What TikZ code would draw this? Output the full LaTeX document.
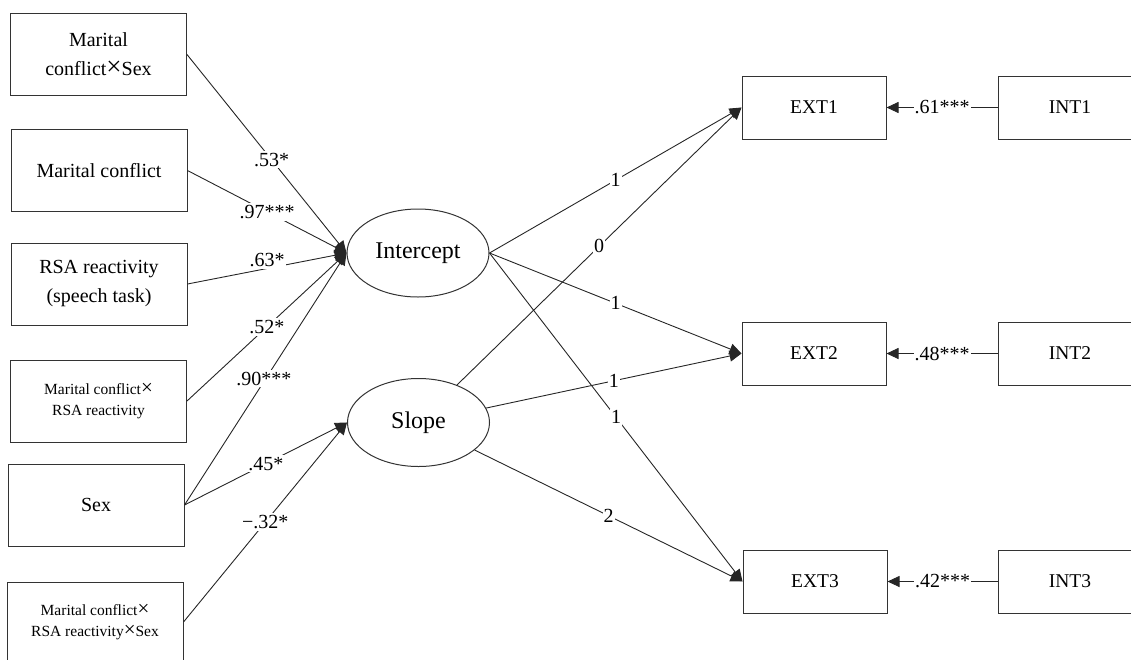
\documentclass[tikz,border=0pt]{standalone}
\usepackage{fontspec}
\usepackage{graphicx}
\setmainfont{Liberation Serif}
\usetikzlibrary{arrows.meta,shapes.geometric}
\newcommand{\tmsx}{\raisebox{0.02em}{\scalebox{1.35}{×}}}
\begin{document}
\begin{tikzpicture}[x=1pt,y=-1pt,
  obs/.style={draw=black!80, line width=1pt, minimum width=176pt, minimum height=82pt,
    inner sep=0pt, align=center, font=\fontsize{20}{29}\selectfont},
  obsS/.style={obs, font=\fontsize{15.5}{21.5}\selectfont},
  lat/.style={ellipse, draw=black!80, line width=1pt, minimum width=142pt,
    minimum height=88pt, inner sep=0pt, font=\fontsize{24}{28}\selectfont},
  ind/.style={draw=black!80, line width=1pt, minimum width=144pt, minimum height=63pt,
    inner sep=0pt, font=\fontsize{19.5}{22}\selectfont},
  conn/.style={draw=black!85, line width=0.9pt, -{Triangle[length=12pt,width=11pt]}},
  coef/.style={fill=white, inner xsep=1pt, inner ysep=2pt, font=\fontsize{20}{22}\selectfont}]
\useasboundingbox (0,0) rectangle (1131,659);
\clip (0,0) rectangle (1131,659);

% observed predictors
\node[obs]  (b1) at (98.5,54.5) {Marital\\conflict\tmsx Sex};
\node[obs]  (b2) at (99,170.5)  {Marital conflict};
\node[obs]  (b3) at (99,284)    {RSA reactivity\\(speech task)};
\node[obsS] (b4) at (98.5,401)  {Marital conflict\tmsx\\RSA reactivity};
\node[obs]  (b5) at (96,505)    {Sex};
\node[obsS, minimum height=80pt] (b6) at (95,622) {Marital conflict\tmsx\\RSA reactivity\tmsx Sex};

% latent factors
\node[lat] (icp) at (418,253)     {Intercept};
\node[lat] (slp) at (418.5,422.5) {Slope};

% outcomes
\node[ind] (e1) at (814,107.5) {EXT1};
\node[ind] (e2) at (814,353.5) {EXT2};
\node[ind] (e3) at (815,581.5) {EXT3};
\node[ind] (i1) at (1070,107.5) {INT1};
\node[ind] (i2) at (1070,353.5) {INT2};
\node[ind] (i3) at (1070,581.5) {INT3};

% predictors -> latent
\draw[conn] (b1.east) -- node[coef,pos=0.53] {.53*} (icp.west);
\draw[conn] (b2.east) -- node[coef,pos=0.5] {.97***} (icp.west);
\draw[conn] (b3.east) -- node[coef,pos=0.5,yshift=8pt] {.63*} (icp.west);
\draw[conn] (b4.east) -- node[coef,pos=0.5] {.52*} (icp.west);
\draw[conn] (b5.east) -- node[coef,pos=0.49,yshift=3pt] {.90***} (icp.west);
\draw[conn] (b5.east) -- node[coef,pos=0.5] {.45*} (slp.west);
\draw[conn] (b6.east) -- node[coef,pos=0.5] {−.32*} (slp.west);

% latent -> outcomes
\draw[conn] (icp.east) -- node[coef] {1} (e1.west);
\draw[conn] (slp) -- node[coef] {0} (e1.west);
\draw[conn] (icp.east) -- node[coef] {1} (e2.west);
\draw[conn] (icp.east) -- node[coef] {1} (e3.west);
\draw[conn] (slp) -- node[coef] {1} (e2.west);
\draw[conn] (slp) -- node[coef] {2} (e3.west);

% covariates
\draw[conn] (i1.west) -- node[coef] {.61***} (e1.east);
\draw[conn] (i2.west) -- node[coef] {.48***} (e2.east);
\draw[conn] (i3.west) -- node[coef] {.42***} (e3.east);
\end{tikzpicture}
\end{document}
